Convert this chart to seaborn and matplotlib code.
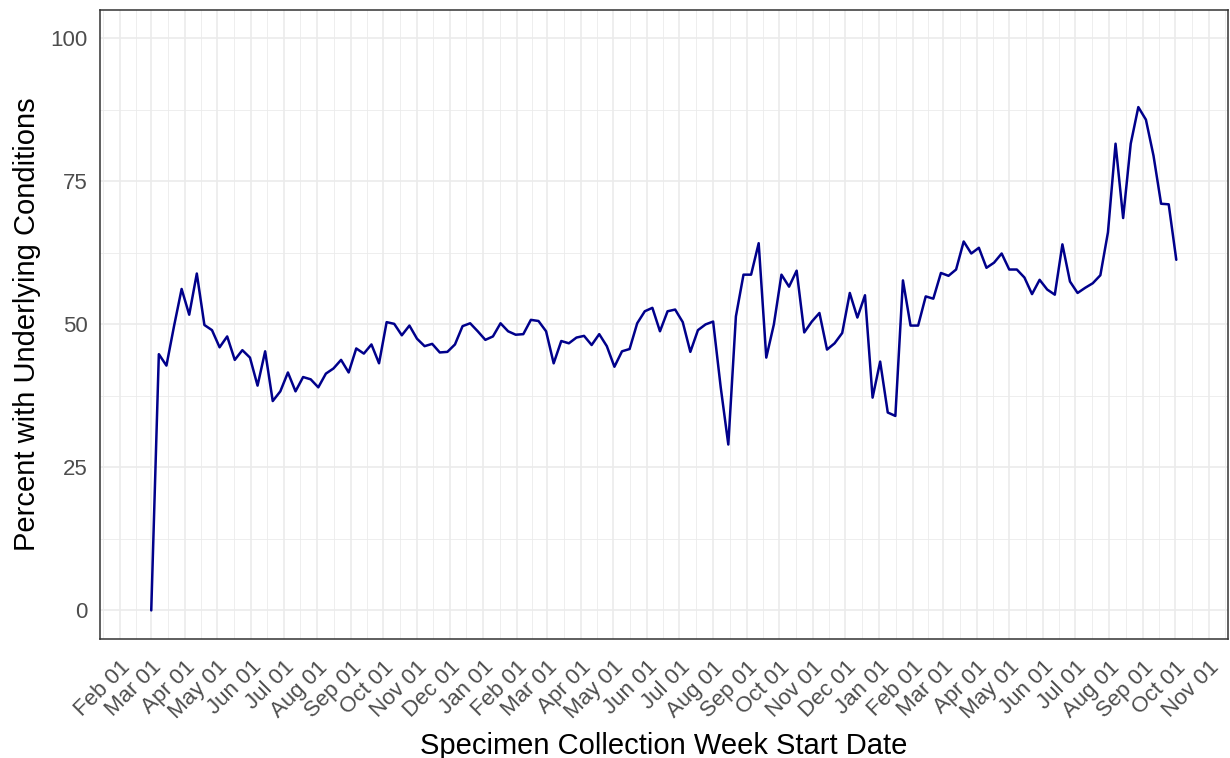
import matplotlib
matplotlib.use("Agg")
import matplotlib.pyplot as plt
import matplotlib.dates as mdates
import pandas as pd
import seaborn as sns

# weekly percent, weeks starting Sun 2020-03-01
start_week = "2020-03-01"
pct_values = [
    0.0, 44.8, 42.8, 49.7, 56.2, 51.7, 58.9, 49.9, 49.0, 46.0,
    47.9, 43.8, 45.5, 44.2, 39.3, 45.3, 36.6, 38.3, 41.6, 38.3,
    40.8, 40.4, 39.0, 41.4, 42.3, 43.8, 41.6, 45.8, 44.9, 46.5,
    43.2, 50.4, 50.1, 48.1, 49.8, 47.5, 46.2, 46.6, 45.1, 45.2,
    46.5, 49.7, 50.2, 48.8, 47.3, 47.9, 50.2, 48.8, 48.2, 48.3,
    50.8, 50.6, 48.8, 43.2, 47.1, 46.7, 47.7, 48.0, 46.4, 48.3,
    46.2, 42.6, 45.3, 45.7, 50.2, 52.3, 52.9, 48.8, 52.3, 52.6,
    50.4, 45.2, 49.0, 50.0, 50.5, 39.0, 29.0, 51.4, 58.7, 58.7,
    64.2, 44.2, 50.0, 58.7, 56.6, 59.4, 48.6, 50.5, 52.0, 45.6,
    46.7, 48.5, 55.5, 51.2, 55.1, 37.2, 43.5, 34.6, 34.0, 57.7,
    49.8, 49.8, 54.9, 54.5, 59.0, 58.5, 59.6, 64.5, 62.4, 63.4,
    59.9, 60.8, 62.4, 59.6, 59.6, 58.2, 55.3, 57.8, 56.1, 55.2,
    64.0, 57.5, 55.5, 56.4, 57.2, 58.6, 66.1, 81.6, 68.6, 81.6,
    88.0, 85.8, 79.5, 71.1, 71.0, 61.3,
]
week_dates = pd.date_range(start_week, periods=len(pct_values), freq="7D")
df = pd.DataFrame({"week": week_dates, "pct": pct_values})

sns.set_style("white")
plt.rcParams["font.family"] = ["Liberation Sans", "DejaVu Sans"]

fig, ax = plt.subplots(figsize=(12.3, 7.58), dpi=100)
fig.subplots_adjust(left=0.0813, right=0.998, top=0.987, bottom=0.157)

# gridlines (ggplot theme_bw look)
month_starts = pd.date_range("2020-01-01", "2022-12-01", freq="MS")
mids = month_starts[:-1] + (month_starts[1:] - month_starts[:-1]) / 2
for d in mids:
    ax.axvline(d, color="#EBEBEB", lw=0.6, zorder=0)
for d in month_starts:
    ax.axvline(d, color="#EBEBEB", lw=1.2, zorder=0)
for y in [12.5, 37.5, 62.5, 87.5]:
    ax.axhline(y, color="#EBEBEB", lw=0.6, zorder=0)
for y in [0, 25, 50, 75, 100]:
    ax.axhline(y, color="#EBEBEB", lw=1.2, zorder=0)

sns.lineplot(data=df, x="week", y="pct", ax=ax, color="#00008B", linewidth=1.8, zorder=3)

span = df["week"].max() - df["week"].min()
ax.set_xlim(df["week"].min() - span * 0.05, df["week"].max() + span * 0.05)
ax.set_ylim(-5, 105)
ax.set_yticks([0, 25, 50, 75, 100])
ax.xaxis.set_major_locator(mdates.MonthLocator())
ax.xaxis.set_major_formatter(mdates.DateFormatter("%b %d"))

ax.tick_params(axis="both", colors="#333333", labelcolor="#4D4D4D", labelsize=16,
               length=4.8, width=1.1, pad=4)
ax.tick_params(axis="x", pad=8)
for lab in ax.get_xticklabels():
    lab.set_rotation(45)
    lab.set_ha("right")
    lab.set_rotation_mode("anchor")

for s in ax.spines.values():
    s.set_color("#333333")
    s.set_linewidth(1.1)

ax.set_xlabel("Specimen Collection Week Start Date", fontsize=21, color="black", labelpad=6)
ax.set_ylabel("Percent with Underlying Conditions", fontsize=21, color="black", labelpad=7)

fig.savefig("out.png", dpi=100)
